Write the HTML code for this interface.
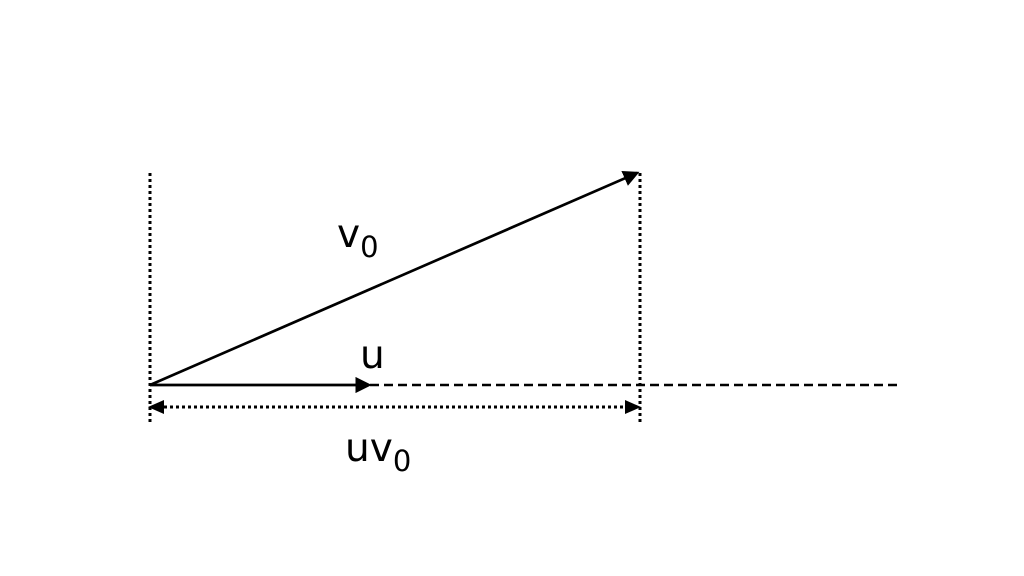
<!DOCTYPE html>
<html><head><style>body{margin:0;background:#fff}svg{display:block}</style></head><body>
<svg width="1024" height="576" viewBox="0 0 1024 576" xmlns="http://www.w3.org/2000/svg">
<defs>
<marker id="a" markerWidth="6" markerHeight="6" refX="5" refY="3" orient="auto" markerUnits="strokeWidth"><path d="M0,0 L6,3 L0,6 z" fill="#000"/></marker>
</defs>
<g stroke="#000" fill="none">
<line x1="150" y1="173" x2="150" y2="425" stroke-width="3" stroke-dasharray="3,3"/>
<line x1="640" y1="173" x2="640" y2="425" stroke-width="3" stroke-dasharray="3,3"/>
<line x1="370" y1="385" x2="898" y2="385" stroke-width="2.5" stroke-dasharray="9,5"/>
<line x1="150" y1="385" x2="369" y2="385" stroke-width="2.7" marker-end="url(#a)"/>
<line x1="150" y1="385" x2="637" y2="173" stroke-width="2.7" marker-end="url(#a)"/>
<line x1="164" y1="407" x2="626" y2="407" stroke-width="3" stroke-dasharray="3,3"/>
</g>
<path d="M148,407 L164,400 L164,414 z" fill="#000"/>
<path d="M641,407 L625,400 L625,414 z" fill="#000"/>
<g font-family="DejaVu Sans, sans-serif" fill="#000">
<text x="337" y="247" font-size="39">v<tspan font-size="29" dy="10">0</tspan></text>
<text x="360" y="368" font-size="39">u</text>
<text x="345" y="461" font-size="39">uv<tspan font-size="29" dy="10">0</tspan></text>
</g>
</svg>
</body></html>
